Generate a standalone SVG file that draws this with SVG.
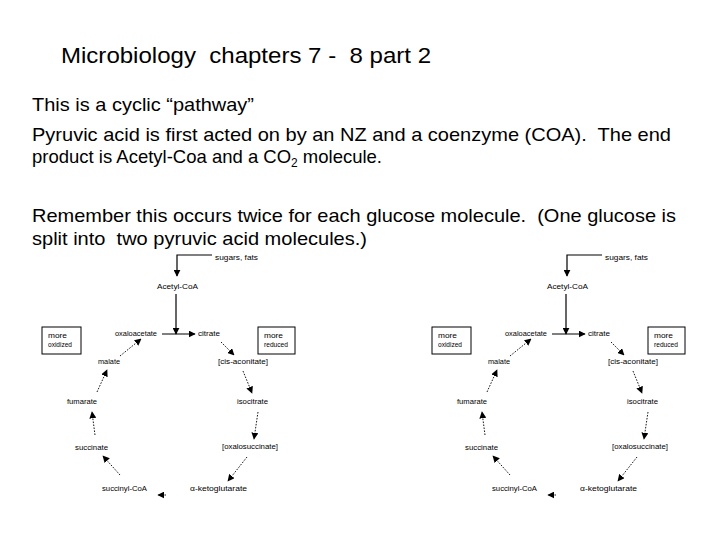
<svg xmlns="http://www.w3.org/2000/svg" width="720" height="540" viewBox="0 0 720 540">
<style>
.t{font-family:"Liberation Sans",Arial,sans-serif;fill:#000}
.title{font-size:21.5px}
.body{font-size:18.6px}
.lb{font-family:"Liberation Sans",Arial,sans-serif;font-size:6.5px;fill:#000}
.solid{stroke:#000;stroke-width:1.2;fill:none}
.dot{stroke:#000;stroke-width:0.9;fill:none;stroke-dasharray:1.6 1.4}
.box{stroke:#000;stroke-width:1;fill:#fff}
</style>
<defs>
<marker id="ah" viewBox="0 0 10 10" refX="9" refY="5" markerWidth="7" markerHeight="7" markerUnits="userSpaceOnUse" orient="auto">
<path d="M0,0 L10,5 L0,10 z" fill="#000"/>
</marker>
</defs>
<rect width="720" height="540" fill="#fff"/>
<g id="heading">
<text class="t title" x="61" y="63" textLength="370" lengthAdjust="spacingAndGlyphs" xml:space="preserve">Microbiology  chapters 7 -  8 part 2</text>
</g>
<g id="paragraphs">
<text class="t body" x="32" y="111" textLength="222" lengthAdjust="spacingAndGlyphs">This is a cyclic “pathway”</text>
<text class="t body" x="32" y="141" textLength="639" lengthAdjust="spacingAndGlyphs" xml:space="preserve">Pyruvic acid is first acted on by an NZ and a coenzyme (COA).  The end</text>
<text class="t body" x="32" y="163" textLength="350" lengthAdjust="spacingAndGlyphs">product is Acetyl-Coa and a CO<tspan font-size="12" dy="4">2</tspan><tspan dy="-4"> molecule.</tspan></text>
<text class="t body" x="32" y="222" textLength="644" lengthAdjust="spacingAndGlyphs" xml:space="preserve">Remember this occurs twice for each glucose molecule.  (One glucose is</text>
<text class="t body" x="32" y="245" textLength="335" lengthAdjust="spacingAndGlyphs" xml:space="preserve">split into  two pyruvic acid molecules.)</text>
</g>

<g id="cycle-left">
<g id="L-connectors">
<path class="solid" d="M212,255 H177 V276" marker-end="url(#ah)"/>
<path class="solid" d="M176,294 V334" marker-end="url(#ah)"/>
<path class="solid" d="M162,334 H195" marker-end="url(#ah)"/>
<path class="dot" d="M120,356 L141,339" marker-end="url(#ah)"/>
<path class="dot" d="M221,342 L234,355" marker-end="url(#ah)"/>
<path class="dot" d="M243,371 L252,393" marker-end="url(#ah)"/>
<path class="dot" d="M258,412 L254,439" marker-end="url(#ah)"/>
<path class="dot" d="M247,457 L228,481" marker-end="url(#ah)"/>
<path class="dot" d="M166,495 L158,495" marker-end="url(#ah)"/>
<path class="dot" d="M120,475 L103,456" marker-end="url(#ah)"/>
<path class="dot" d="M95,435 L92,412" marker-end="url(#ah)"/>
<path class="dot" d="M97,392 L107,370" marker-end="url(#ah)"/>
</g>
<g id="L-sugars"><text class="lb" x="215" y="260" textLength="43" lengthAdjust="spacingAndGlyphs">sugars, fats</text></g>
<g id="L-acetylcoa"><text class="lb" x="157" y="289" textLength="41" lengthAdjust="spacingAndGlyphs">Acetyl-CoA</text></g>
<g id="L-oxaloacetate"><text class="lb" x="115" y="336" textLength="42" lengthAdjust="spacingAndGlyphs">oxaloacetate</text></g>
<g id="L-citrate"><text class="lb" x="198" y="336" textLength="22" lengthAdjust="spacingAndGlyphs">citrate</text></g>
<g id="L-oxidized"><rect class="box" x="42" y="327" width="39" height="27"/><text class="lb" x="48" y="338" textLength="19" lengthAdjust="spacingAndGlyphs">more</text><text class="lb" x="48" y="347" textLength="24" lengthAdjust="spacingAndGlyphs">oxidized</text></g>
<g id="L-reduced"><rect class="box" x="258" y="327" width="37" height="27"/><text class="lb" x="264" y="338" textLength="19" lengthAdjust="spacingAndGlyphs">more</text><text class="lb" x="264" y="347" textLength="24" lengthAdjust="spacingAndGlyphs">reduced</text></g>
<g id="L-malate"><text class="lb" x="98" y="364" textLength="22" lengthAdjust="spacingAndGlyphs">malate</text></g>
<g id="L-cisaconitate"><text class="lb" x="218" y="364" textLength="50" lengthAdjust="spacingAndGlyphs">[cis-aconitate]</text></g>
<g id="L-fumarate"><text class="lb" x="67" y="404" textLength="30" lengthAdjust="spacingAndGlyphs">fumarate</text></g>
<g id="L-isocitrate"><text class="lb" x="237" y="404" textLength="31" lengthAdjust="spacingAndGlyphs">isocitrate</text></g>
<g id="L-succinate"><text class="lb" x="75" y="450" textLength="33" lengthAdjust="spacingAndGlyphs">succinate</text></g>
<g id="L-oxalosuccinate"><text class="lb" x="222" y="449" textLength="56" lengthAdjust="spacingAndGlyphs">[oxalosuccinate]</text></g>
<g id="L-succinylcoa"><text class="lb" x="102" y="491" textLength="45" lengthAdjust="spacingAndGlyphs">succinyl-CoA</text></g>
<g id="L-ketoglutarate"><text class="lb" x="190" y="491" textLength="57" lengthAdjust="spacingAndGlyphs">α-ketoglutarate</text></g>
</g>

<g id="cycle-right" transform="translate(390,0)">
<g id="R-connectors">
<path class="solid" d="M212,255 H177 V276" marker-end="url(#ah)"/>
<path class="solid" d="M176,294 V334" marker-end="url(#ah)"/>
<path class="solid" d="M162,334 H195" marker-end="url(#ah)"/>
<path class="dot" d="M120,356 L141,339" marker-end="url(#ah)"/>
<path class="dot" d="M221,342 L234,355" marker-end="url(#ah)"/>
<path class="dot" d="M243,371 L252,393" marker-end="url(#ah)"/>
<path class="dot" d="M258,412 L254,439" marker-end="url(#ah)"/>
<path class="dot" d="M247,457 L228,481" marker-end="url(#ah)"/>
<path class="dot" d="M166,495 L158,495" marker-end="url(#ah)"/>
<path class="dot" d="M120,475 L103,456" marker-end="url(#ah)"/>
<path class="dot" d="M95,435 L92,412" marker-end="url(#ah)"/>
<path class="dot" d="M97,392 L107,370" marker-end="url(#ah)"/>
</g>
<g id="R-sugars"><text class="lb" x="215" y="260" textLength="43" lengthAdjust="spacingAndGlyphs">sugars, fats</text></g>
<g id="R-acetylcoa"><text class="lb" x="157" y="289" textLength="41" lengthAdjust="spacingAndGlyphs">Acetyl-CoA</text></g>
<g id="R-oxaloacetate"><text class="lb" x="115" y="336" textLength="42" lengthAdjust="spacingAndGlyphs">oxaloacetate</text></g>
<g id="R-citrate"><text class="lb" x="198" y="336" textLength="22" lengthAdjust="spacingAndGlyphs">citrate</text></g>
<g id="R-oxidized"><rect class="box" x="42" y="327" width="39" height="27"/><text class="lb" x="48" y="338" textLength="19" lengthAdjust="spacingAndGlyphs">more</text><text class="lb" x="48" y="347" textLength="24" lengthAdjust="spacingAndGlyphs">oxidized</text></g>
<g id="R-reduced"><rect class="box" x="258" y="327" width="37" height="27"/><text class="lb" x="264" y="338" textLength="19" lengthAdjust="spacingAndGlyphs">more</text><text class="lb" x="264" y="347" textLength="24" lengthAdjust="spacingAndGlyphs">reduced</text></g>
<g id="R-malate"><text class="lb" x="98" y="364" textLength="22" lengthAdjust="spacingAndGlyphs">malate</text></g>
<g id="R-cisaconitate"><text class="lb" x="218" y="364" textLength="50" lengthAdjust="spacingAndGlyphs">[cis-aconitate]</text></g>
<g id="R-fumarate"><text class="lb" x="67" y="404" textLength="30" lengthAdjust="spacingAndGlyphs">fumarate</text></g>
<g id="R-isocitrate"><text class="lb" x="237" y="404" textLength="31" lengthAdjust="spacingAndGlyphs">isocitrate</text></g>
<g id="R-succinate"><text class="lb" x="75" y="450" textLength="33" lengthAdjust="spacingAndGlyphs">succinate</text></g>
<g id="R-oxalosuccinate"><text class="lb" x="222" y="449" textLength="56" lengthAdjust="spacingAndGlyphs">[oxalosuccinate]</text></g>
<g id="R-succinylcoa"><text class="lb" x="102" y="491" textLength="45" lengthAdjust="spacingAndGlyphs">succinyl-CoA</text></g>
<g id="R-ketoglutarate"><text class="lb" x="190" y="491" textLength="57" lengthAdjust="spacingAndGlyphs">α-ketoglutarate</text></g>
</g>
</svg>
